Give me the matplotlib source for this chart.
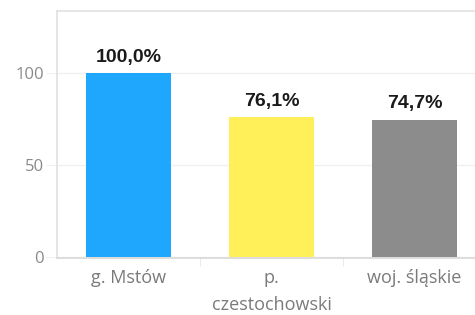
import numpy as np
import matplotlib.pyplot as plt

categories = ['g. Mstów', 'p.\nczestochowski', 'woj. śląskie']
values = [100.0, 76.1, 74.7]
labels = ['100,0%', '76,1%', '74,7%']
colors = ['#1ea7fd', '#fff059', '#8c8c8c']

plt.rcParams['font.family'] = ['Open Sans', 'DejaVu Sans']

fig = plt.figure(figsize=(4.75, 3.15), dpi=100)
ax = fig.add_axes([57 / 475, 1 - 258 / 315, 429 / 475, 247 / 315])

x = np.arange(len(categories))
ax.bar(x, values, width=0.6, color=colors, zorder=3)
for xi, v, lab in zip(x, values, labels):
    ax.text(xi, v + 4, lab, ha='center', va='bottom', fontsize=14,
            fontweight='bold', color='#1a1a1a', family='Liberation Sans')

ax.set_xlim(-0.5, 2.5)
ax.set_ylim(-0.8, 134)
ax.set_yticks([0, 50, 100])
ax.grid(axis='y', color='#f0f0f0', linewidth=1, zorder=0)

ax.set_xticks(x)
ax.set_xticklabels(categories, fontsize=13, color='#7a7a7a', linespacing=1.65)
ax.set_xticks([0.5, 1.5], minor=True)
ax.tick_params(axis='x', which='major', length=0, pad=8)
ax.tick_params(axis='x', which='minor', length=6, color='#e6e6e6')
ax.tick_params(axis='y', length=8, color='#f0f0f0', labelsize=12,
               labelcolor='#8a8a8a', pad=1.5)

for s in ax.spines.values():
    s.set_color('#e0e0e0')
    s.set_linewidth(1.2)
ax.spines['bottom'].set_color('#d8d8d8')

fig.savefig('out.png', dpi=100)
